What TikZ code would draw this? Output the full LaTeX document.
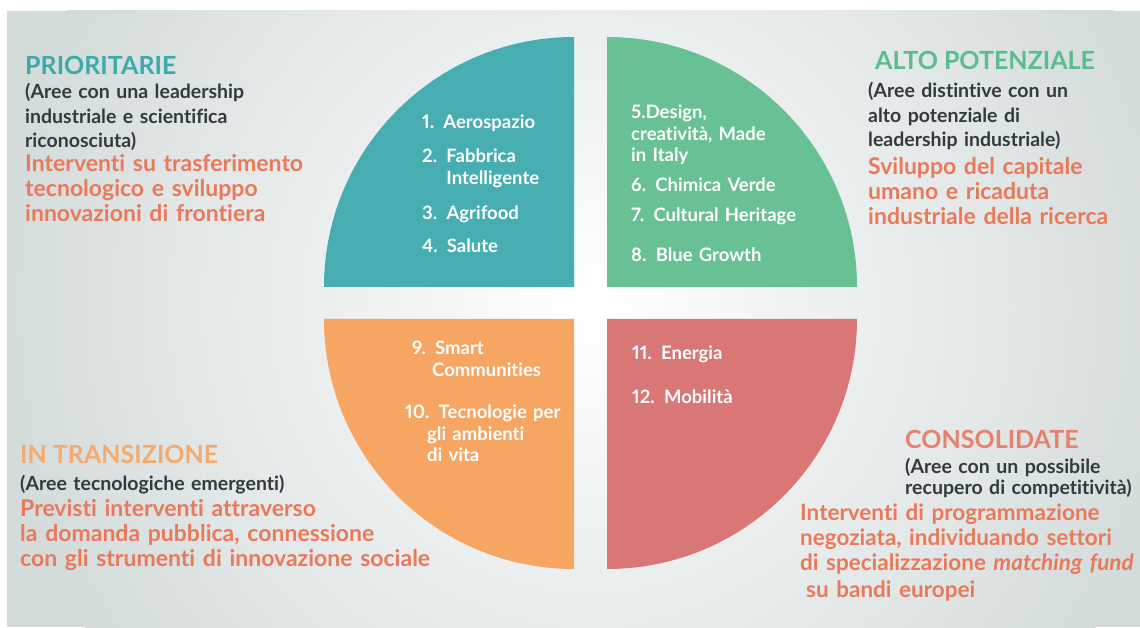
\documentclass[tikz,border=0pt]{standalone}
\usepackage{fontspec}
\setmainfont{Lato}[Ligatures=NoCommon, Numbers=Proportional]
\usepackage{tikz}
\definecolor{panelgray}{RGB}{212,219,219}
\definecolor{tealq}{RGB}{70,174,176}
\definecolor{greenq}{RGB}{104,193,146}
\definecolor{orangeq}{RGB}{246,166,98}
\definecolor{redq}{RGB}{217,118,118}
\definecolor{tealtitle}{RGB}{60,170,168}
\definecolor{greentitle}{RGB}{90,190,140}
\definecolor{orangetitle}{RGB}{245,170,110}
\definecolor{redtitle}{RGB}{232,128,110}
\definecolor{darktext}{RGB}{50,58,62}
\definecolor{actiontext}{RGB}{234,121,90}
\tikzset{
        heading/.style = {anchor=base west, inner sep=0pt,
            font=\bfseries\fontsize{25}{28}\selectfont},
        areas/.style = {anchor=base west, inner sep=0pt, align=left,
            text width=14cm, text=darktext,
            font=\bfseries\fontsize{19.5}{24.5}\selectfont},
        actions/.style = {anchor=base west, inner sep=0pt, align=left,
            text width=20cm, text=actiontext,
            font=\bfseries\fontsize{23}{25}\selectfont},
        sector/.style = {anchor=base west, inner sep=0pt, align=left,
            text width=8cm, text=white,
            font=\bfseries\fontsize{18.5}{21.5}\selectfont},
    }

\begin{document}
\begin{tikzpicture}[x=1pt, y=1pt]
		\useasboundingbox (0,0) rectangle (1140,627);
		\fill[white] (0,0) rectangle (1140,627);
		\begin{scope}
		\clip (7,0) rectangle (1140,616);
		\fill[panelgray] (7,0) rectangle (1140,616);
		\shade[inner color=white, outer color=panelgray] (590,323) circle (600pt);
		\end{scope}
		\fill[tealq]   (574,340) -- (324,340) arc[start angle=180, end angle=90,  radius=250pt] -- cycle;
		\fill[greenq]  (607,340) -- (607,590) arc[start angle=90,  end angle=0,   radius=250pt] -- cycle;
		\fill[orangeq] (574,308) -- (324,308) arc[start angle=180, end angle=270, radius=250pt] -- cycle;
		\fill[redq]    (607,308) -- (857,308) arc[start angle=0,   end angle=-90, radius=250pt] -- cycle;
		\node[sector] (Aerospazio)  at (422,498) {1. Aerospazio};
		\node[sector] (Fabbrica)    at (422,464) {2. Fabbrica\\\phantom{2. }Intelligente};
		\node[sector] (Agrifood)    at (422,407) {3. Agrifood};
		\node[sector] (Salute)      at (422,374) {4. Salute};
		\node[sector] (Design)      at (631,508) {5.Design,\\creatività, Made\\in Italy};
		\node[sector] (Chimica)     at (631,435) {6. Chimica Verde};
		\node[sector] (Cultural)    at (631,405) {7. Cultural Heritage};
		\node[sector] (BlueGrowth)  at (631,365) {8. Blue Growth};
		\node[sector] (Smart)       at (412,272) {9. Smart\\\hspace*{20pt}Communities};
		\node[sector] (Tecnologie)  at (405,208) {10. Tecnologie per\\\hspace*{22pt}gli ambienti\\\hspace*{22pt}di vita};
		\node[sector] (Energia)     at (632,267) {11. Energia};
		\node[sector] (Mobilita)    at (632,223) {12. Mobilità};
		\node[heading, text=tealtitle]   (Prioritarie)    at (25,552)  {PRIORITARIE};
		\node[areas]                     (PrioritarieAree) at (25,528) {(Aree con una leadership\\industriale e scientifica\\riconosciuta)};
		\node[actions]                   (PrioritarieAzioni) at (25,455) {Interventi su trasferimento\\tecnologico e sviluppo\\innovazioni di frontiera};
		\node[heading, text=greentitle]  (AltoPotenziale) at (875,557) {ALTO POTENZIALE};
		\node[areas]                     (AltoPotenzialeAree) at (868,529) {(Aree distintive con un\\alto potenziale di\\leadership industriale)};
		\node[actions]                   (AltoPotenzialeAzioni) at (868,452) {Sviluppo del capitale\\umano e ricaduta\\industriale della ricerca};
		\node[heading, text=orangetitle] (InTransizione)  at (20,164)  {IN TRANSIZIONE};
		\node[areas]                     (InTransizioneAree) at (20,137) {(Aree tecnologiche emergenti)};
		\node[actions]                   (InTransizioneAzioni) at (20,111) {Previsti interventi attraverso\\la domanda pubblica, connessione\\con gli strumenti di innovazione sociale};
		\node[heading, text=redtitle]    (Consolidate)    at (905,179) {CONSOLIDATE};
		\node[areas, font=\bfseries\fontsize{19.5}{21}\selectfont] (ConsolidateAree) at (905,154) {(Aree con un possibile\\recupero di competitività)};
		\node[actions, font=\bfseries\fontsize{22.5}{25}\selectfont] (ConsolidateAzioni) at (800,107) {Interventi di programmazione\\negoziata, individuando settori\\di specializzazione \textit{matching fund}\\[2pt]\hspace*{6pt}su bandi europei};
\end{tikzpicture}
\end{document}
